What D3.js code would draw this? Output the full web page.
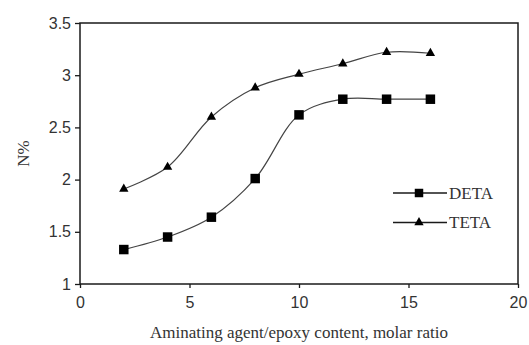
<!DOCTYPE html>
<html>
<head>
<meta charset="utf-8">
<script src="https://cdn.jsdelivr.net/npm/d3@7"></script>
<style>
  body { margin: 0; background: #fff; }
  svg { display: block; }
</style>
</head>
<body>
<div class="chart-container"></div>
<script>
(function() {
  // Data
  const ratios = [2, 4, 6, 8, 10, 12, 14, 16];
  const detaValues = [1.33, 1.45, 1.64, 2.01, 2.62, 2.77, 2.77, 2.77];
  const tetaValues = [1.91, 2.12, 2.6, 2.88, 3.01, 3.11, 3.22, 3.21];
  const seriesNames = ["DETA", "TETA"];
  const xTicks = [0, 5, 10, 15, 20];
  const yTicks = [1, 1.5, 2, 2.5, 3, 3.5];

  // Chart
  const chartWidth = 529;
  const chartHeight = 345;
  const margin = { top: 23, right: 11, bottom: 61, left: 80 };
  const width = chartWidth - margin.left - margin.right;
  const height = chartHeight - margin.top - margin.bottom;
  const ink = "#1a1a1a";
  const textColor = "#333";
  const serif = "'Liberation Serif', 'Times New Roman', serif";
  const sans = "'Liberation Sans', Arial, sans-serif";

  const xScale = d3.scaleLinear().domain([0, 20]).range([0, width]);
  const yScale = d3.scaleLinear().domain([1, 3.5]).range([height, 0]);

  const svg = d3
    .select(".chart-container")
    .append("svg")
    .attr("width", chartWidth)
    .attr("height", chartHeight);

  const g = svg
    .append("g")
    .attr("transform", `translate(${margin.left},${margin.top})`);

  // frame
  g.append("rect")
    .attr("width", width)
    .attr("height", height)
    .attr("fill", "none")
    .attr("stroke", ink)
    .attr("stroke-width", 1.5);

  g.append("g")
    .attr("transform", `translate(0,${height})`)
    .call(
      d3.axisBottom(xScale)
        .tickValues(xTicks)
        .tickFormat(d3.format("~g"))
        .tickSize(4)
        .tickPadding(9)
    )
    .attr("font-family", sans)
    .attr("font-size", 16)
    .call(g => g.select(".domain").remove())
    .call(g => g.selectAll(".tick line").attr("stroke", ink).attr("stroke-width", 1.3))
    .call(g => g.selectAll(".tick text").attr("fill", textColor));

  g.append("g")
    .call(
      d3.axisLeft(yScale)
        .tickValues(yTicks)
        .tickFormat(d3.format("~g"))
        .tickSize(5)
        .tickPadding(4)
    )
    .attr("font-family", sans)
    .attr("font-size", 16)
    .call(g => g.select(".domain").remove())
    .call(g => g.selectAll(".tick line").attr("stroke", ink).attr("stroke-width", 1.3))
    .call(g => g.selectAll(".tick text").attr("fill", textColor));

  // axis titles
  svg.append("text")
    .attr("x", 299)
    .attr("y", 333)
    .attr("text-anchor", "middle")
    .attr("dy", "0.32em")
    .attr("fill", textColor)
    .attr("font-family", serif)
    .attr("font-size", 17)
    .text("Aminating agent/epoxy content, molar ratio");

  svg.append("text")
    .attr("transform", `translate(24,${margin.top + yScale(2.25)}) rotate(-90)`)
    .attr("text-anchor", "middle")
    .attr("dy", "0.32em")
    .attr("fill", textColor)
    .attr("font-family", serif)
    .attr("font-size", 17)
    .text("N%");

  // series
  const line = d3
    .line()
    .x(d => xScale(d[0]))
    .y(d => yScale(d[1]))
    .curve(d3.curveCatmullRom.alpha(0.5));

  const series = [
    { name: seriesNames[0], values: d3.zip(ratios, detaValues), marker: "square" },
    { name: seriesNames[1], values: d3.zip(ratios, tetaValues), marker: "triangle" }
  ];

  const symbolFor = (m, k) =>
    m === "square"
      ? d3.symbol().type(d3.symbolSquare).size(90 * k)
      : d3.symbol().type(d3.symbolTriangle).size(38 * k);

  series.forEach(s => {
    g.append("path")
      .datum(s.values)
      .attr("fill", "none")
      .attr("stroke", "#444")
      .attr("stroke-width", 1.2)
      .attr("d", line);

    g.append("g")
      .selectAll("path")
      .data(s.values)
      .join("path")
      .attr("transform", d => `translate(${xScale(d[0])},${yScale(d[1])})`)
      .attr("d", symbolFor(s.marker, 1)())
      .attr("fill", "#000");
  });

  // legend
  const legend = g
    .append("g")
    .attr("transform", `translate(${393 - margin.left},${193 - margin.top})`);

  const legendItem = legend
    .selectAll("g")
    .data(series)
    .join("g")
    .attr("transform", (d, i) => `translate(0,${i * 29.5})`);

  legendItem
    .append("line")
    .attr("x1", 0)
    .attr("x2", 54)
    .attr("stroke", ink)
    .attr("stroke-width", 1.3);

  legendItem
    .append("path")
    .attr("transform", "translate(26,0)")
    .attr("d", d => symbolFor(d.marker, d.marker === "square" ? 0.8 : 1)())
    .attr("fill", "#000");

  legendItem
    .append("text")
    .attr("x", 56)
    .attr("dy", "0.35em")
    .attr("fill", textColor)
    .attr("font-family", serif)
    .attr("font-size", 17)
    .text(d => d.name);
})();
</script>
</body>
</html>
